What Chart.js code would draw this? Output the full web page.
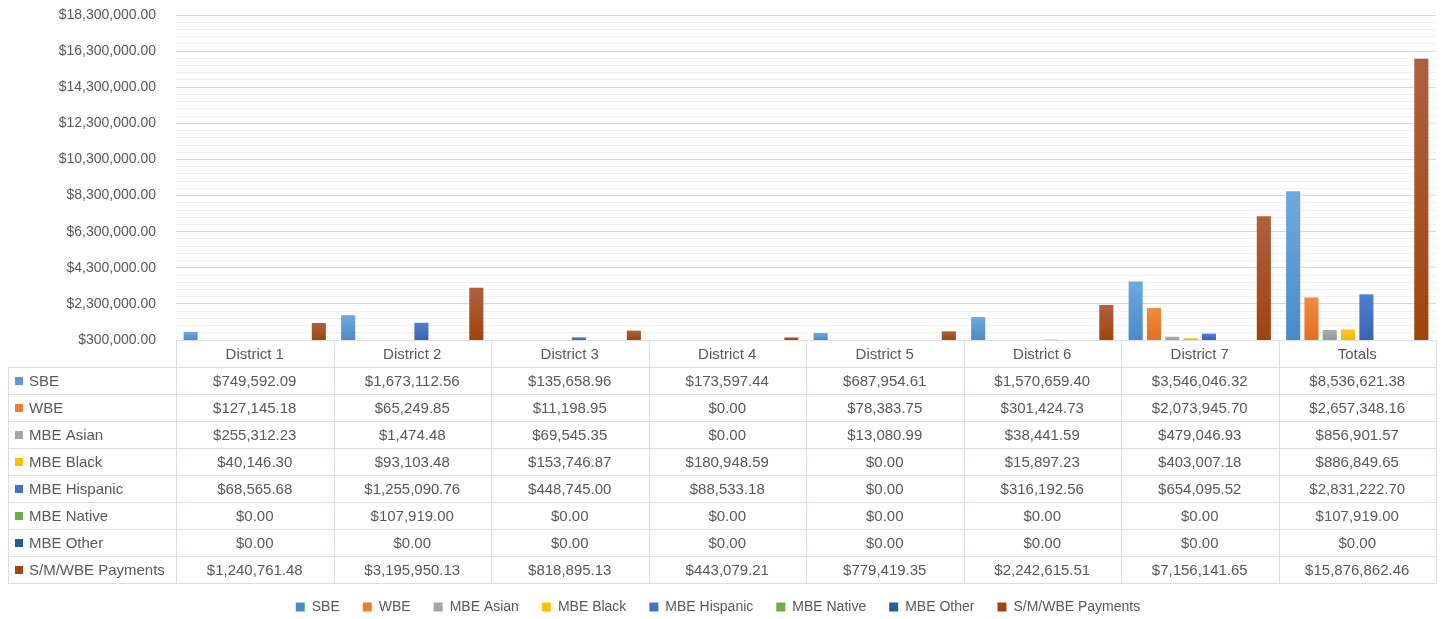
<!DOCTYPE html>
<html>
<head>
<meta charset="utf-8">
<script src="https://cdn.jsdelivr.net/npm/chart.js@4.4.1/dist/chart.umd.min.js"></script>
<style>
  html, body { margin: 0; padding: 0; background: #ffffff; }
  #wrap { width: 1443px; height: 619px; }
</style>
</head>
<body>
<div id="wrap"><canvas id="c" width="1443" height="619"></canvas></div>
<script>
// ---- DATA ----
const categories = ["District 1", "District 2", "District 3", "District 4", "District 5", "District 6", "District 7", "Totals"];
const seriesNames = ["SBE", "WBE", "MBE Asian", "MBE Black", "MBE Hispanic", "MBE Native", "MBE Other", "S/M/WBE Payments"];
const sbe      = [749592.09, 1673112.56, 135658.96, 173597.44, 687954.61, 1570659.40, 3546046.32, 8536621.38];
const wbe      = [127145.18, 65249.85, 11198.95, 0.00, 78383.75, 301424.73, 2073945.70, 2657348.16];
const mbeAsian = [255312.23, 1474.48, 69545.35, 0.00, 13080.99, 38441.59, 479046.93, 856901.57];
const mbeBlack = [40146.30, 93103.48, 153746.87, 180948.59, 0.00, 15897.23, 403007.18, 886849.65];
const mbeHisp  = [68565.68, 1255090.76, 448745.00, 88533.18, 0.00, 316192.56, 654095.52, 2831222.70];
const mbeNative= [0.00, 107919.00, 0.00, 0.00, 0.00, 0.00, 0.00, 107919.00];
const mbeOther = [0.00, 0.00, 0.00, 0.00, 0.00, 0.00, 0.00, 0.00];
const payments = [1240761.48, 3195950.13, 818895.13, 443079.21, 779419.35, 2242615.51, 7156141.65, 15876862.46];
const seriesValues = [sbe, wbe, mbeAsian, mbeBlack, mbeHisp, mbeNative, mbeOther, payments];
const yMin = 300000, yMax = 18300000, yMajorStep = 2000000, yMinorStep = 400000;

// ---- STYLE ----
const baseColors  = ["#5B9BD5", "#ED7D31", "#A5A5A5", "#FFC000", "#4472C4", "#70AD47", "#255E91", "#9E480E"];
const lightColors = ["#6FA9DE", "#F28A44", "#ADADAD", "#FFC926", "#5080D0", "#7DB957", "#2E6CA3", "#AF6040"];
const darkColors  = ["#4A8BC9", "#E36F1F", "#999999", "#F5B800", "#3A63B3", "#62A03A", "#1F5282", "#A0440C"];
const textColor = "#595959";
const fontFamily = "'Liberation Sans', Arial, sans-serif";
const gridLine = "#D9DEE6";

const fmt = v => "$" + v.toLocaleString("en-US", {minimumFractionDigits: 2, maximumFractionDigits: 2});
const isMajor = v => {
  const k = (v - yMin) / yMajorStep;
  return Math.abs(k - Math.round(k)) < 1e-6;
};

const PAD_BOTTOM = -5;
const AREA_BOTTOM = 340;
const ROW_H = 27;

function gradientFor(i) {
  return function(ctx) {
    const chart = ctx.chart;
    if (ctx.type !== 'data' || !chart.chartArea || !chart.scales.y) return baseColors[i];
    const top = chart.scales.y.getPixelForValue(ctx.raw);
    const bottom = chart.chartArea.bottom;
    if (!(bottom > top) || !isFinite(top)) return baseColors[i];
    const g = chart.ctx.createLinearGradient(0, Math.max(top, chart.chartArea.top), 0, bottom);
    g.addColorStop(0, lightColors[i]);
    g.addColorStop(1, darkColors[i]);
    return g;
  };
}

const datasets = seriesNames.map((name, i) => ({
  label: name,
  data: seriesValues[i],
  backgroundColor: gradientFor(i),
  borderWidth: 0,
  categoryPercentage: 0.93,
  barPercentage: 0.77
}));

const tablePlugin = {
  id: 'dataTable',
  afterDraw(chart) {
    const {ctx, chartArea} = chart;
    const xs = chart.scales.x;
    const n = categories.length;
    const colW = (chartArea.right - chartArea.left) / n;
    const top = chartArea.bottom;
    const left = 8;
    const rows = seriesNames.length;
    const bottom = top + ROW_H * (rows + 1);
    const a = v => Math.round(v) + 0.5;
    ctx.save();
    ctx.strokeStyle = gridLine;
    ctx.lineWidth = 1;
    ctx.beginPath();
    ctx.moveTo(chartArea.left, a(top)); ctx.lineTo(chartArea.right, a(top));
    for (let r = 1; r <= rows + 1; r++) {
      const y = a(top + r * ROW_H);
      ctx.moveTo(left, y); ctx.lineTo(chartArea.right, y);
    }
    ctx.moveTo(a(left), top + ROW_H); ctx.lineTo(a(left), bottom);
    for (let c = 0; c <= n; c++) {
      const x = a(chartArea.left + c * colW);
      ctx.moveTo(x, top); ctx.lineTo(x, bottom);
    }
    ctx.stroke();

    ctx.fillStyle = textColor;
    ctx.textBaseline = 'middle';
    ctx.textAlign = 'center';
    ctx.font = "15px " + fontFamily;
    categories.forEach((cat, i) => ctx.fillText(cat, xs.getPixelForValue(i), top + ROW_H / 2 + 1));

    seriesNames.forEach((name, r) => {
      const cy = top + (r + 1.5) * ROW_H + 1;
      ctx.fillStyle = baseColors[r];
      ctx.fillRect(15, Math.round(cy - 5), 8, 8);
      ctx.fillStyle = textColor;
      ctx.textAlign = 'left';
      ctx.font = "15px " + fontFamily;
      ctx.fillText(name, 29, cy);
      ctx.textAlign = 'center';
      seriesValues[r].forEach((v, i) => ctx.fillText(fmt(v), xs.getPixelForValue(i), cy));
    });
    ctx.restore();
  }
};

new Chart(document.getElementById('c'), {
  type: 'bar',
  data: { labels: categories, datasets },
  plugins: [tablePlugin],
  options: {
    responsive: false,
    animation: false,
    layout: { padding: { top: 15, right: 7, left: 0, bottom: PAD_BOTTOM } },
    plugins: {
      legend: {
        position: 'bottom',
        labels: {
          color: textColor,
          font: { size: 14, family: fontFamily },
          boxWidth: 9,
          boxHeight: 9,
          padding: 23
        }
      },
      tooltip: { enabled: false }
    },
    scales: {
      x: {
        type: 'category',
        ticks: { display: false },
        grid: { display: false },
        border: { display: false },
        afterFit(scale) {
          const lg = scale.chart.legend ? scale.chart.legend.height : 0;
          scale.height = scale.chart.height - PAD_BOTTOM - lg - AREA_BOTTOM;
        }
      },
      y: {
        min: yMin,
        max: yMax,
        ticks: {
          stepSize: yMinorStep,
          autoSkip: false,
          padding: 0,
          color: textColor,
          font: { size: 14, family: fontFamily },
          callback: v => isMajor(v) ? fmt(v) : ''
        },
        grid: {
          drawTicks: true,
          tickLength: 20,
          tickColor: 'rgba(0,0,0,0)',
          color: c => isMajor(c.tick.value) ? '#D9D9D9' : '#F0F0F0',
          lineWidth: 1
        },
        border: { display: false },
        afterFit(scale) { scale.width = 176; }
      }
    }
  }
});
</script>
</body>
</html>
